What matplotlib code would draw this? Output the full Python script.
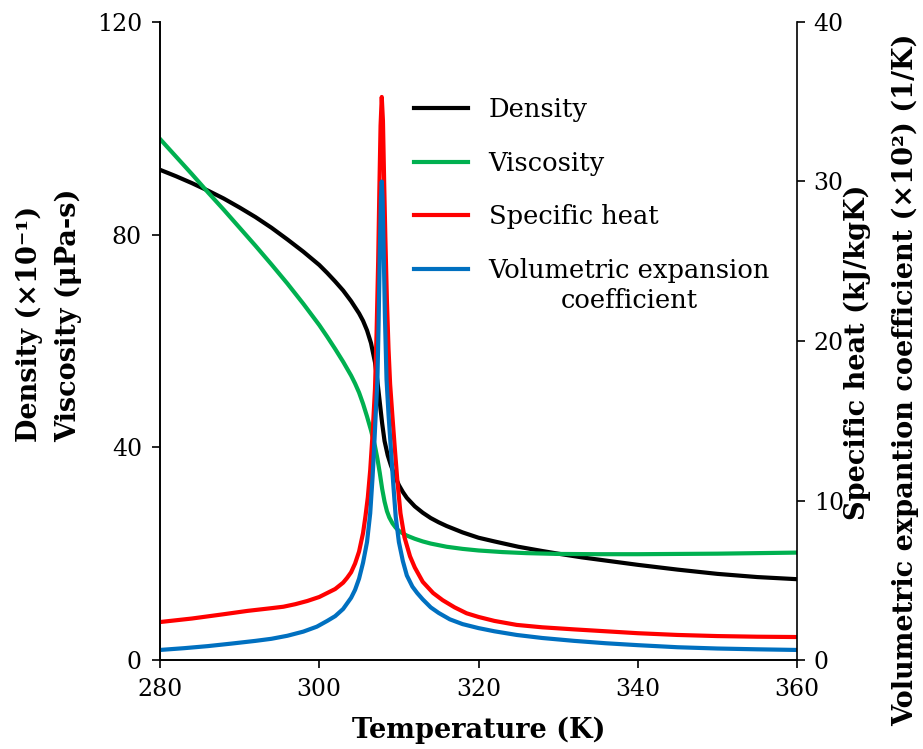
import matplotlib.pyplot as plt

# temperature (K) and property values
t_density = [280, 282, 284, 286, 288, 290, 292, 294, 296, 298, 300, 301, 302, 303, 304,
             305, 305.5, 306, 306.5, 307, 307.3, 307.6, 307.9, 308.2, 308.6, 309, 309.5,
             310, 310.5, 311, 312, 313, 314, 315, 316, 318, 320, 322, 325, 328, 330,
             333, 336, 340, 345, 350, 355, 360]
density = [92.2, 91.0, 89.7, 88.3, 86.8, 85.1, 83.3, 81.3, 79.1, 76.8, 74.3, 72.8, 71.2,
           69.5, 67.5, 65.2, 63.8, 62.0, 59.6, 56.0, 52.5, 48.5, 44.5, 41.2, 38.5, 36.6,
           34.6, 32.9, 31.6, 30.5, 28.9, 27.7, 26.7, 25.9, 25.2, 24.0, 23.0, 22.3, 21.3,
           20.5, 20.0, 19.3, 18.7, 17.9, 17.0, 16.2, 15.6, 15.2]

t_viscosity = [280, 282, 284, 286, 288, 290, 292, 294, 296, 298, 300, 301, 302, 303,
               304, 304.5, 305, 305.5, 306, 306.5, 307, 307.3, 307.6, 307.9, 308.2,
               308.5, 308.8, 309.2, 309.6, 310, 310.5, 311, 312, 313, 314, 316, 318,
               320, 323, 326, 330, 335, 340, 345, 350, 355, 360]
viscosity = [98.0, 94.7, 91.4, 88.0, 84.7, 81.3, 77.9, 74.4, 70.8, 67.0, 63.0, 60.8,
             58.5, 56.1, 53.5, 52.0, 50.3, 48.2, 45.8, 43.2, 40.2, 37.9, 35.2, 32.2,
             29.8, 28.0, 26.8, 25.7, 24.9, 24.3, 23.8, 23.4, 22.8, 22.3, 21.9, 21.3,
             20.9, 20.6, 20.3, 20.1, 19.95, 19.9, 19.9, 19.95, 20.0, 20.1, 20.2]

t_cp = [280, 284, 288, 291, 294, 295.5, 297, 298.5, 300, 301, 302, 303, 303.5, 304,
        304.5, 305, 305.5, 305.8, 306.1, 306.4, 306.7, 307.0, 307.2, 307.4, 307.55,
        307.7, 307.85, 308.0, 308.15, 308.3, 308.5, 308.7, 308.9, 309.2, 309.5, 309.8,
        310.2, 310.7, 311.4, 312, 313, 314.3, 315.5, 317, 318.5, 320, 322, 324.8, 328,
        332, 336, 340, 345, 350, 355, 360]
cp = [2.38, 2.6, 2.87, 3.08, 3.25, 3.34, 3.5, 3.7, 3.95, 4.2, 4.45, 4.85, 5.15, 5.5,
      6.05, 6.8, 7.96, 9.0, 10.2, 11.9, 14.2, 17.0, 20.5, 25.0, 29.5,
      33.5, 35.3, 33.8, 30.0, 26.5, 22.5, 19.5, 17.3, 15.2, 13.2, 11.3,
      9.2, 7.7, 6.5, 5.8, 4.9, 4.2, 3.75, 3.3, 2.93, 2.7, 2.45, 2.2, 2.05,
      1.92, 1.8, 1.68, 1.57, 1.5, 1.46, 1.44]

t_beta = [280, 283, 286, 289, 292, 294, 296, 298, 299.7, 301, 302, 303, 304, 304.5,
          305, 305.5, 306, 306.4, 306.7, 306.9, 307.1, 307.3, 307.45, 307.6, 307.75,
          307.85, 307.95, 308.1, 308.25, 308.45, 308.7, 309.0, 309.3, 309.6, 310,
          310.5, 311, 311.7, 312.3, 313, 314, 315, 316.4, 318, 320, 322, 324.8, 328,
          332, 336, 340, 345, 350, 355, 360]
beta = [0.63, 0.74, 0.87, 1.03, 1.2, 1.33, 1.52, 1.78, 2.09, 2.45, 2.75, 3.2, 3.9, 4.4,
        5.1, 6.1, 7.4, 9.2, 11.5, 13.4, 15.5, 17.5, 21.0, 25.5, 29.0,
        30.0, 29.0, 25.5, 21.5, 17.6, 15.4, 13.2, 11.0, 9.0, 7.4,
        6.2, 5.3, 4.6, 4.2, 3.8, 3.3, 2.95, 2.55, 2.25, 2.0, 1.8, 1.57, 1.38,
        1.2, 1.05, 0.93, 0.8, 0.72, 0.67, 0.63]

x_ticks = [280, 300, 320, 340, 360]
left_ticks = [0, 40, 80, 120]
right_ticks = [0, 10, 20, 30, 40]

plt.rcParams['font.family'] = ['DejaVu Serif']

fig = plt.figure(figsize=(9.23, 7.49), dpi=100)
W, H = 923, 749
ax = fig.add_axes([160 / W, 89 / H, 637 / W, 638 / H])
ax2 = ax.twinx()

l1, = ax.plot(t_density, density, color='black', lw=3, label='Density')
l2, = ax.plot(t_viscosity, viscosity, color='#00B050', lw=3, label='Viscosity')
l3, = ax2.plot(t_cp, cp, color='#FF0000', lw=3, label='Specific heat')
l4, = ax2.plot(t_beta, beta, color='#0070C0', lw=3, label='Volumetric expansion')

ax.set_xlim(280, 360)
ax.set_ylim(0, 120)
ax2.set_ylim(0, 40)
ax.set_xticks(x_ticks)
ax.set_yticks(left_ticks)
ax2.set_yticks(right_ticks)

for a in (ax, ax2):
    a.spines['top'].set_visible(False)
    for s in a.spines.values():
        s.set_linewidth(1.2)
    a.tick_params(direction='out', length=6, width=1.2, labelsize=17, pad=7)
ax.spines['right'].set_visible(False)
ax2.tick_params(axis='y', pad=6)

lab = dict(fontsize=19.5, fontweight='bold')
ax.set_xlabel('Temperature (K)', labelpad=11, **lab)

fig.text(29 / W, 1 - 442 / H, 'Density (×10⁻¹)', rotation=90,
         ha='center', va='bottom', **lab)
fig.text(68 / W, 1 - 442 / H, 'Viscosity (μPa-s)', rotation=90,
         ha='center', va='bottom', **lab)
fig.text(857 / W, 1 - 352 / H, 'Specific heat (kJ/kgK)', rotation=90,
         ha='center', va='center', **lab)
fig.text(905 / W, 1 - 380 / H, 'Volumetric expantion coefficient (×10²) (1/K)',
         rotation=90, ha='center', va='center', **lab)

leg = ax2.legend(handles=[l1, l2, l3, l4], loc='upper left',
                 bbox_to_anchor=((414 - 160) / 637, (660 - 97) / 638),
                 frameon=False, fontsize=18.5, handlelength=2.1, handletextpad=0.8,
                 labelspacing=1.11, borderaxespad=0, borderpad=0)

# second line of the last legend entry, centred under the first
fig.canvas.draw()
bb = leg.get_texts()[3].get_window_extent()
fig.text((bb.x0 + bb.x1) / 2 / fig.bbox.width, ((bb.y0 + bb.y1) / 2 - 30) / fig.bbox.height,
         'coefficient', fontsize=18.5, ha='center', va='center')

fig.savefig('out.png', dpi=100)
